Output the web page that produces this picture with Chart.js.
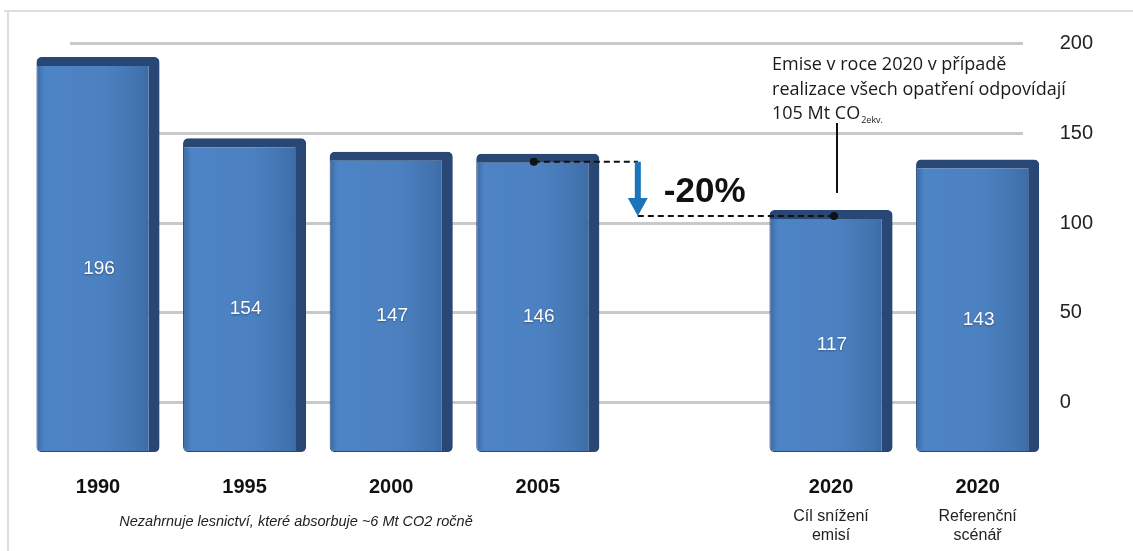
<!DOCTYPE html>
<html lang="cs">
<head>
<meta charset="UTF-8">
<script src="https://cdn.jsdelivr.net/npm/chart.js"></script>
<title>Emise skleníkových plynů</title>
<style>
  body { margin: 0; background: #fff; }
  #wrap { width: 1133px; height: 551px; }
</style>
</head>
<body>
<div id="wrap"><canvas id="emiChart" width="1133" height="551"></canvas></div>
<script>
// data
const years = ['1990', '1995', '2000', '2005', '', '2020', '2020'];
const subLabels = [[], [], [], [], [], ['Cíl snížení', 'emisí'], ['Referenční', 'scénář']];
const emissions = [196, 154, 147, 146, null, 117, 143];
const axisTicks = [0, 50, 100, 150, 200];
const noteText = 'Nezahrnuje lesnictví, které absorbuje ~6 Mt CO2 ročně';
const calloutLines = ['Emise v roce 2020 v případě', 'realizace všech opatření odpovídají', '105 Mt CO'];
const reductionText = '-20%';

const FONT = "'Liberation Sans', Arial, sans-serif";
const NOTE_FONT = "'Open Sans', 'Liberation Sans', sans-serif";

function barFill(ctx) {
    const chart = ctx.chart;
    const xs = chart.scales.x;
    if (!xs || !chart.chartArea) return '#4b80c0';
    const cx = xs.getPixelForValue(ctx.dataIndex);
    const g = chart.ctx.createLinearGradient(cx - 62, 0, cx + 62, 0);
    g.addColorStop(0, '#3a67a3');
    g.addColorStop(0.07, '#4d84c5');
    g.addColorStop(0.55, '#4c81c1');
    g.addColorStop(0.85, '#4172ad');
    g.addColorStop(1, '#36609a');
    return g;
}

// frame, labels and arrows drawn around the bars
const decor = {
    id: 'decor',
    beforeDraw(chart) {
        const c = chart.ctx;
        c.save();
        c.fillStyle = '#fff';
        c.fillRect(0, 0, chart.width, chart.height);
        c.strokeStyle = '#dedede';
        c.lineWidth = 2;
        c.beginPath();
        c.moveTo(4, 11); c.lineTo(chart.width, 11);
        c.moveTo(8, 11); c.lineTo(8, chart.height);
        c.stroke();
        c.restore();
    },
    afterDatasetsDraw(chart) {
        const c = chart.ctx;
        const meta = chart.getDatasetMeta(0);
        const xs = chart.scales.x;

        // values inside the bars
        c.save();
        c.font = '19px ' + FONT;
        c.fillStyle = '#fff';
        c.textAlign = 'center';
        c.textBaseline = 'middle';
        c.shadowColor = 'rgba(0,0,0,0.35)';
        c.shadowBlur = 2;
        c.shadowOffsetY = 1;
        meta.data.forEach((bar, i) => {
            if (emissions[i] == null) return;
            c.fillText(String(emissions[i]), bar.x + 1, (bar.y + bar.base) / 2 + 14);
        });
        c.restore();

        // sub labels under the 2020 ticks
        c.save();
        c.font = '16px ' + FONT;
        c.fillStyle = '#222';
        c.textAlign = 'center';
        c.textBaseline = 'middle';
        subLabels.forEach((lines, i) => {
            lines.forEach((t, j) => c.fillText(t, xs.getPixelForValue(i), 517 + j * 19));
        });
        // foot note
        c.font = 'italic 14.5px ' + FONT;
        c.fillText(noteText, 296, 522);
        c.restore();

        // reduction arrow between 2005 and 2020 target
        const b05 = meta.data[3], b20 = meta.data[5];
        const y1 = b05.y + 8, y2 = b20.y + 6;
        const xA = b05.x + 100;
        c.save();
        c.strokeStyle = '#111';
        c.lineWidth = 2;
        c.setLineDash([6, 4]);
        c.beginPath();
        c.moveTo(b05.x - 4, y1); c.lineTo(xA, y1);
        c.moveTo(xA, y2); c.lineTo(b20.x + 3, y2);
        c.stroke();
        c.setLineDash([]);
        c.fillStyle = '#111';
        c.beginPath(); c.arc(b05.x - 4, y1, 4, 0, Math.PI * 2); c.fill();
        c.beginPath(); c.arc(b20.x + 3, y2, 4, 0, Math.PI * 2); c.fill();

        c.strokeStyle = '#1b75bc';
        c.fillStyle = '#1b75bc';
        c.lineWidth = 6;
        c.beginPath(); c.moveTo(xA, y1); c.lineTo(xA, y2 - 16); c.stroke();
        c.beginPath();
        c.moveTo(xA - 10, y2 - 18); c.lineTo(xA + 10, y2 - 18); c.lineTo(xA, y2); c.closePath();
        c.fill();

        c.fillStyle = '#111';
        c.font = 'bold 35px ' + FONT;
        c.textBaseline = 'middle';
        c.fillText(reductionText, xA + 26, (y1 + y2) / 2 + 3);

        // callout for 105 Mt
        c.strokeStyle = '#111';
        c.lineWidth = 2;
        c.beginPath(); c.moveTo(b20.x + 6, 123); c.lineTo(b20.x + 6, b20.y - 17); c.stroke();
        c.font = '18px ' + NOTE_FONT;
        c.fillStyle = '#1a1a1a';
        c.textAlign = 'left';
        const tx = b20.x - 59;
        calloutLines.forEach((t, j) => c.fillText(t, tx, 65 + j * 24.5));
        const w = c.measureText(calloutLines[2]).width;
        c.font = '9px ' + NOTE_FONT;
        c.fillText('2ekv.', tx + w + 1, 65 + 2 * 24.5 + 6);
        c.restore();
    }
};

new Chart(document.getElementById('emiChart'), {
    type: 'bar',
    data: {
        datasets: [{
            data: emissions.map((v, i) => ({ x: i, y: v })),
            yAxisID: 'yBar',
            base: -8,
            clip: false,
            backgroundColor: barFill,
            borderColor: '#284774',
            borderWidth: { top: 9, right: 11, left: 1, bottom: 1 },
            borderRadius: 5,
            borderSkipped: false,
            categoryPercentage: 1,
            barPercentage: 0.84
        }]
    },
    plugins: [decor],
    options: {
        responsive: false,
        animation: false,
        layout: { padding: { left: 70, right: 3, top: 30, bottom: 37 } },
        plugins: {
            legend: { display: false },
            tooltip: { enabled: false }
        },
        scales: {
            x: {
                type: 'linear',
                offset: false,
                min: -0.191,
                max: 6.307,
                grid: { display: false, drawTicks: false, offset: false },
                border: { display: false },
                afterBuildTicks: (axis) => {
                    axis.ticks = years.map((y, i) => ({ value: i })).filter(t => years[t.value] !== '');
                },
                ticks: {
                    padding: 15,
                    color: '#111',
                    font: { family: FONT, size: 20, weight: 'bold' },
                    callback: (v) => years[v]
                }
            },
            yBar: {
                display: false,
                min: -12.08,
                max: 209.9
            },
            y: {
                position: 'right',
                min: -32,
                max: 207.5,
                afterBuildTicks: (axis) => {
                    axis.ticks = axisTicks.map(v => ({ value: v }));
                },
                afterFit: (axis) => {
                    axis.paddingTop = 0;
                    axis.paddingBottom = 0;
                },
                grid: { color: '#c9c9c9', lineWidth: 3, drawTicks: false },
                border: { display: false },
                ticks: {
                    padding: 37,
                    color: '#222',
                    font: { family: FONT, size: 20 }
                }
            }
        }
    }
});
</script>
</body>
</html>
